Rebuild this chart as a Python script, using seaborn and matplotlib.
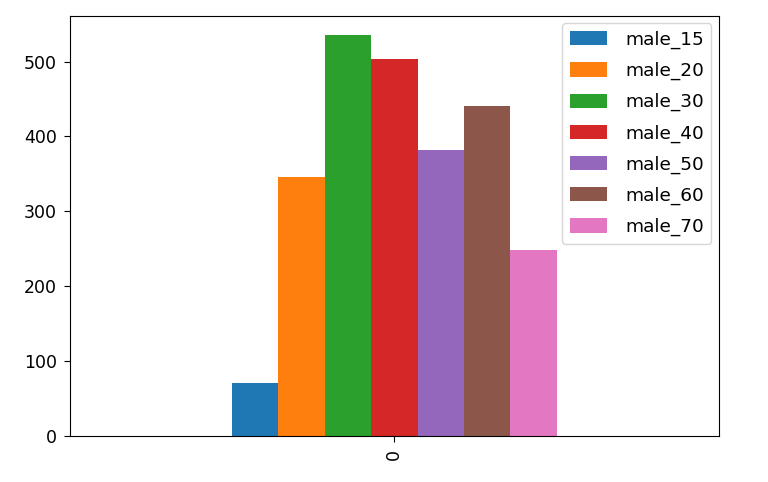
import seaborn as sns
import pandas as pd
import matplotlib
matplotlib.use('Agg')
import matplotlib.pyplot as plt

# one row of counts, one bar per age group
groups = ['male_15', 'male_20', 'male_30', 'male_40', 'male_50', 'male_60', 'male_70']
counts = [70, 346, 535, 503, 382, 441, 248]
row_label = ['0'] * len(groups)


def plot_bars():
    df = pd.DataFrame({'row': row_label, 'group': groups, 'count': counts})
    fig, ax = plt.subplots(figsize=(7.68, 4.82), dpi=100)
    fig.subplots_adjust(left=0.091, right=0.936, top=0.967, bottom=0.096)
    sns.barplot(data=df, x='row', y='count', hue='group', hue_order=groups,
                palette='tab10', saturation=1, width=0.5, linewidth=0, ax=ax)
    ax.set_xlim(-0.5, 0.5)
    ax.set_ylim(0, 561)
    ax.set_yticks([0, 100, 200, 300, 400, 500])
    ax.set_xlabel('')
    ax.set_ylabel('')
    ax.tick_params(labelsize=12.5, length=4.2, pad=5)
    plt.setp(ax.get_xticklabels(), rotation=90)
    old = ax.get_legend()
    handles = old.legend_handles
    labels = [t.get_text() for t in old.get_texts()]
    ax.legend(handles, labels, loc='upper right', fontsize=13.3,
              handletextpad=1.0, borderaxespad=0.4, labelspacing=0.7,
              handleheight=0.8)
    plt.savefig('out.png')


plot_bars()
